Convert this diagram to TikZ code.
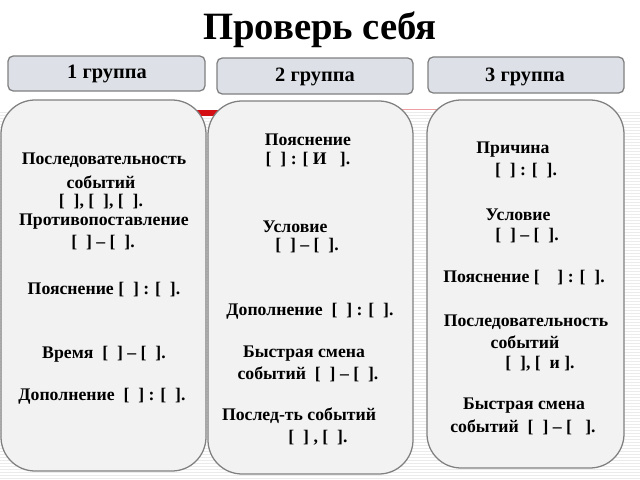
\documentclass[tikz,border=0pt]{standalone}
\usepackage{fontspec}
\setmainfont{Liberation Serif}
\usetikzlibrary{positioning}
\definecolor{panelfill}{HTML}{F2F2F3}
\definecolor{panelline}{HTML}{808080}
\definecolor{grpfill}{HTML}{DDE1E7}
\definecolor{stripe}{HTML}{EBEBEB}
\definecolor{redbar}{HTML}{D40F14}
\begin{document}
\begin{tikzpicture}[
  x=0.025cm,y=-0.025cm,
  panel/.style={draw=panelline,fill=panelfill,line width=0.9pt,rounded corners=0.85cm},
  grpbox/.style={draw=panelline,fill=grpfill,line width=0.9pt,rounded corners=0.13cm},
  grptext/.style={font=\bfseries\fontsize{14.5}{16}\selectfont,inner sep=0pt},
  txt/.style={font=\bfseries\fontsize{12.6}{15}\selectfont,inner sep=0pt}
]
\useasboundingbox (0,0) rectangle (640,480);
\fill[white] (0,0) rectangle (640,480);
% background stripes
\foreach \y in {112,115,...,480}
  \draw[stripe,line width=0.3pt] (0,\y) -- (640,\y);
\fill[redbar] (190,110) rectangle (225,116);
\draw[redbar!40,line width=0.7pt] (225,109) -- (437,109);

% title
\node[font=\bfseries\fontsize{27.5}{32}\selectfont,inner sep=0pt] (title) at (320,30) {Проверь себя};

% group headers
\draw[grpbox] (8,56) rectangle (205,91);
\draw[grpbox] (217,58) rectangle (413,94);
\draw[grpbox] (428,57) rectangle (624,93);
\node[grptext] (h1) at (107,74) {1 группа};
\node[grptext] (h2) at (315,77) {2 группа};
\node[grptext] (h3) at (525,77) {3 группа};

% panels
\draw[panel] (1,100) rectangle (206,471);
\draw[panel] (208,101) rectangle (413,474);
\draw[panel] (427,100) rectangle (624,468);

% group 1
\node[txt] (a1) at (104,160) {Последовательность};
\node[txt] (a2) at (101,182) {событий};
\node[txt] (a3) at (101,202) {[~~], [~~], [~~].};
\node[txt] (a4) at (104,222) {Противопоставление};
\node[txt] (a5) at (103,243) {[~~] – [~~].};
\node[txt] (a6) at (104,290) {Пояснение [~~] : [~~].};
\node[txt] (a7) at (104,354) {Время~ [~~] – [~~].};
\node[txt] (a8) at (102,396) {Дополнение~ [~~] : [~~].};

% group 2
\node[txt] (b1) at (308,140) {Пояснение};
\node[txt] (b2) at (308,160) {[~~] : [ И~~~].};
\node[txt] (b3) at (295,227) {Условие};
\node[txt] (b4) at (307,246) {[~~] – [~~].};
\node[txt] (b5) at (310,311) {Дополнение~ [~~] : [~~].};
\node[txt] (b6) at (304,354) {Быстрая смена};
\node[txt] (b7) at (308,374) {событий~ [~~] – [~~].};
\node[txt] (b8) at (299,416) {Послед-ть событий};
\node[txt] (b9) at (318,438) {[~~] , [~~].};

% group 3
\node[txt] (c1) at (513,150) {Причина};
\node[txt] (c2) at (526,171) {[~~] : [~~].};
\node[txt] (c3) at (518,215) {Условие};
\node[txt] (c4) at (527,236) {[~~] – [~~].};
\node[txt] (c5) at (524,278) {Пояснение [~~~~] : [~~].};
\node[txt] (c6) at (526,322) {Последовательность};
\node[txt] (c7) at (525,342) {событий};
\node[txt] (c8) at (540,364) {[~~], [~~и ].};
\node[txt] (c9) at (524,406) {Быстрая смена};
\node[txt] (c10) at (523,427) {событий~ [~~] – [~~~].};
\end{tikzpicture}
\end{document}
